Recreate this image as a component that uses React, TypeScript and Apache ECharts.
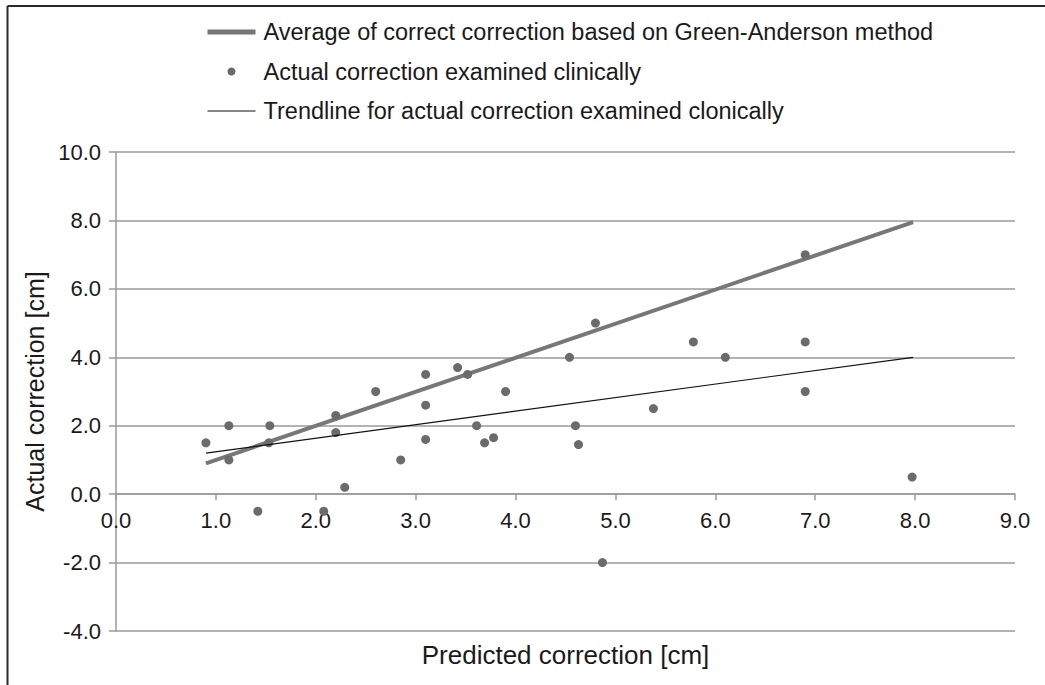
import React, { useEffect, useRef } from "react";
import * as echarts from "echarts";

// Predicted correction [cm] (x) and actual correction examined clinically [cm] (y)
const predicted = [
  0.9, 1.13, 1.13, 1.54, 1.53, 1.42, 2.08, 2.2, 2.2, 2.29, 2.6, 2.85, 3.1, 3.1, 3.1,
  3.42, 3.52, 3.61, 3.69, 3.78, 3.9, 4.54, 4.6, 4.63, 4.8, 4.87, 5.38, 5.78, 6.1,
  6.9, 6.9, 6.9, 7.97,
];
const actual = [
  1.5, 2.0, 1.0, 2.0, 1.5, -0.5, -0.5, 2.3, 1.8, 0.2, 3.0, 1.0, 3.5, 2.6, 1.6,
  3.7, 3.5, 2.0, 1.5, 1.65, 3.0, 4.0, 2.0, 1.45, 5.0, -2.0, 2.5, 4.45, 4.0,
  7.0, 4.45, 3.0, 0.5,
];

// Line endpoints
const averageX = [0.9, 7.98];
const averageY = [0.9, 7.95];
const trendX = [0.9, 7.98];
const trendY = [1.2, 4.0];

const seriesNames = [
  "Average of correct correction based on Green-Anderson method",
  "Actual correction examined clinically",
  "Trendline for actual correction examined clonically",
];

const yTicks = { min: -4, max: 10, interval: 2 };
const xTicks = { min: 0, max: 9, interval: 1 };

const FONT = "'Liberation Sans', Arial, sans-serif";

const GRID_TOP = 152;
const GRID_BOTTOM = 54;
const CHART_H = 685;

export default function App() {
  const ref = useRef<HTMLDivElement>(null);

  useEffect(() => {
    if (!ref.current) return;
    const chart = echarts.init(ref.current, undefined, { renderer: "svg" });
    const scatterData = predicted.map((x, i) => [x, actual[i]]);
    const avgData = averageX.map((x, i) => [x, averageY[i]]);
    const trendData = trendX.map((x, i) => [x, trendY[i]]);

    // place the x axis line at y = 0 (offset from the grid's bottom edge)
    const gridH = CHART_H - GRID_TOP - GRID_BOTTOM;
    const zeroOffset = -((0 - yTicks.min) / (yTicks.max - yTicks.min)) * gridH;

    chart.setOption({
      animation: false,
      backgroundColor: "#ffffff",
      textStyle: { fontFamily: FONT },
      grid: {
        left: 116,
        right: 30,
        top: GRID_TOP,
        bottom: GRID_BOTTOM,
        containLabel: false,
        outerBoundsMode: "none",
      },
      legend: {
        orient: "vertical",
        left: 200,
        top: 15,
        itemWidth: 48,
        itemHeight: 8,
        itemGap: 15.5,
        textStyle: {
          fontFamily: FONT,
          fontSize: 23.5,
          lineHeight: 22,
          color: "#1a1a1a",
          padding: [0, 0, 0, 3],
        },
        data: [
          { name: seriesNames[0], itemStyle: { opacity: 0 }, lineStyle: { width: 5, color: "#777777" } },
          { name: seriesNames[1] },
          { name: seriesNames[2], itemStyle: { opacity: 0 }, lineStyle: { width: 1.2, color: "#111111" } },
        ],
      },
      xAxis: {
        type: "value",
        position: "bottom",
        offset: zeroOffset,
        min: xTicks.min,
        max: xTicks.max,
        interval: xTicks.interval,
        name: "Predicted correction [cm]",
        nameLocation: "middle",
        nameGap: 148,
        nameTextStyle: { fontFamily: FONT, fontSize: 26, color: "#1a1a1a" },
        axisLine: { show: true, onZero: false, lineStyle: { color: "#9a9a9a", width: 1.5 } },
        axisTick: { show: true, length: 6, lineStyle: { color: "#9a9a9a", width: 1.5 } },
        axisLabel: {
          margin: 15,
          fontFamily: FONT,
          fontSize: 22,
          color: "#1a1a1a",
          formatter: (v: number) => v.toFixed(1),
        },
        splitLine: { show: false },
      },
      yAxis: {
        type: "value",
        min: yTicks.min,
        max: yTicks.max,
        interval: yTicks.interval,
        name: "Actual correction [cm]",
        nameLocation: "middle",
        nameRotate: 90,
        nameGap: 63,
        nameTextStyle: { fontFamily: FONT, fontSize: 25, color: "#1a1a1a" },
        axisLine: { show: true, onZero: false, lineStyle: { color: "#9a9a9a", width: 1.5 } },
        axisTick: { show: true, length: 7, lineStyle: { color: "#9a9a9a", width: 1.5 } },
        axisLabel: {
          margin: 15,
          fontFamily: FONT,
          fontSize: 22,
          color: "#1a1a1a",
          formatter: (v: number) => v.toFixed(1),
        },
        splitLine: { show: true, lineStyle: { color: "#9a9a9a", width: 1.5 } },
      },
      series: [
        {
          name: seriesNames[0],
          type: "line",
          data: avgData,
          symbol: "none",
          showSymbol: false,
          lineStyle: { color: "#777777", width: 4 },
          itemStyle: { color: "#777777" },
          z: 3,
        },
        {
          name: seriesNames[1],
          type: "scatter",
          data: scatterData,
          symbol: "circle",
          symbolSize: 9,
          itemStyle: { color: "#6b6b6b", opacity: 1 },
          z: 4,
        },
        {
          name: seriesNames[2],
          type: "line",
          data: trendData,
          symbol: "none",
          showSymbol: false,
          lineStyle: { color: "#111111", width: 1.2 },
          itemStyle: { color: "#111111" },
          z: 5,
        },
      ],
      graphic: [
        {
          type: "line",
          shape: { x1: 7.5, y1: 6, x2: 7.5, y2: 685 },
          style: { stroke: "#2a2a2a", lineWidth: 2 },
          silent: true,
        },
        {
          type: "line",
          shape: { x1: 7.5, y1: 6, x2: 1045, y2: 6 },
          style: { stroke: "#2a2a2a", lineWidth: 2 },
          silent: true,
        },
      ],
    });

    return () => chart.dispose();
  }, []);

  return (
    <div
      ref={ref}
      style={{ position: "absolute", left: 0, top: 0, width: 1045, height: 685 }}
    />
  );
}
